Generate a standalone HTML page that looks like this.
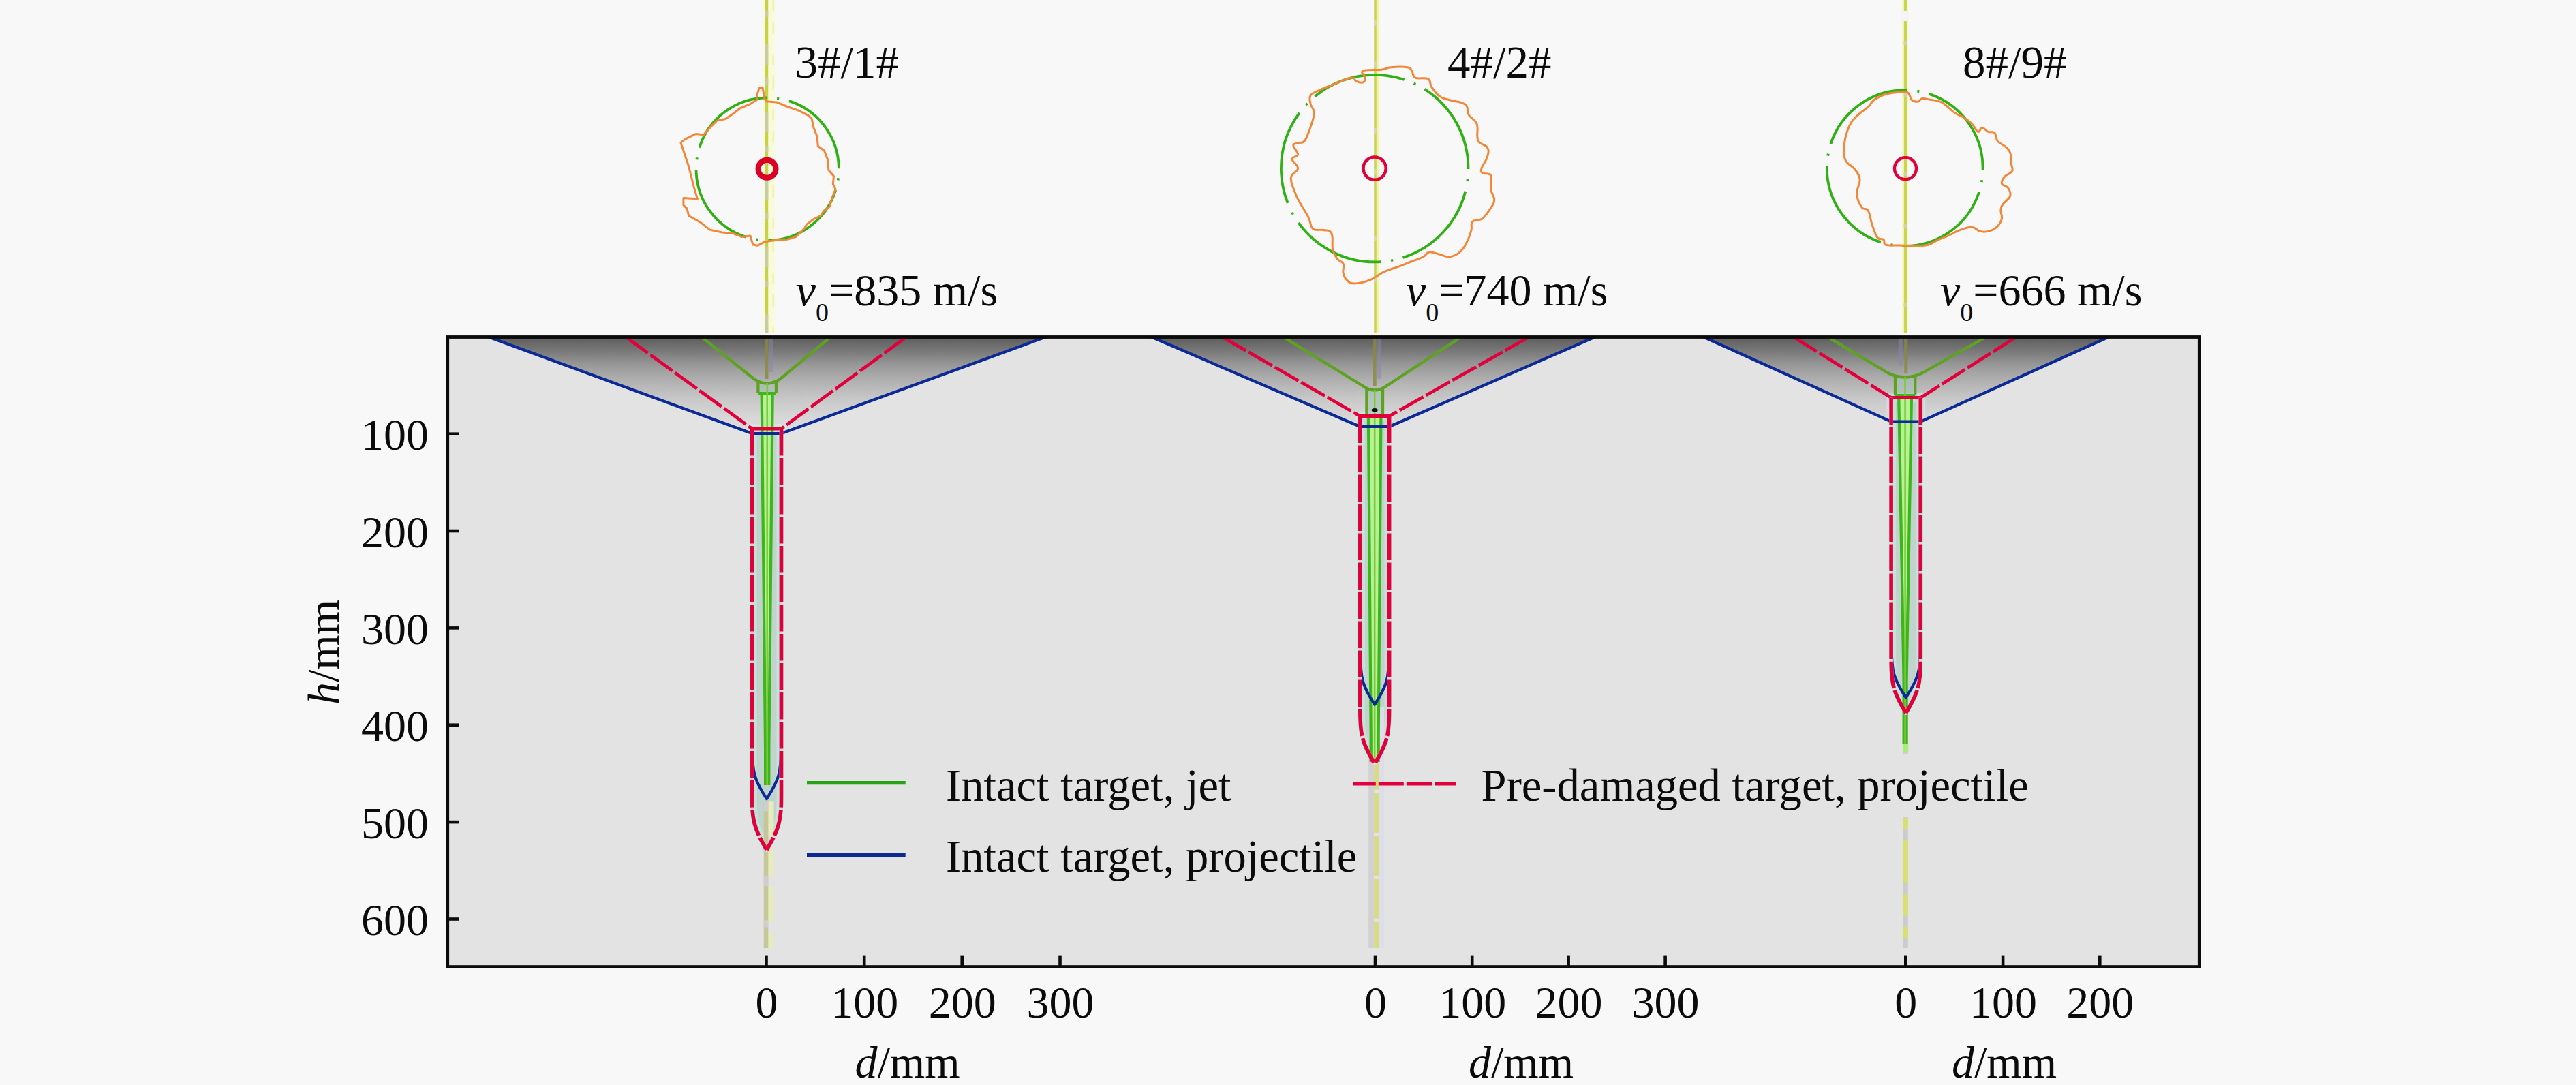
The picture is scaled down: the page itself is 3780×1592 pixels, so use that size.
<!DOCTYPE html>
<html lang="en">
<head>
<meta charset="utf-8">
<title>Penetration depth comparison</title>
<style>
html, body { margin: 0; padding: 0; background: #f8f8f8; }
body { width: 3780px; height: 1592px; overflow: hidden; }
svg { display: block; }
text { font-family: "Liberation Serif", serif; font-size: 66px; fill: #0b0b0b; }
.tt { font-size: 67px; }
.lg { font-size: 66.6px; }
.it { font-style: italic; }
.sub { font-size: 38px; }
</style>
</head>
<body>
<svg width="3780" height="1592" viewBox="0 0 3780 1592">
<defs>
<linearGradient id="crater" gradientUnits="userSpaceOnUse" x1="0" y1="494.5" x2="0" y2="636.0">
<stop offset="0" stop-color="#5e5e5e"/>
<stop offset="0.04" stop-color="#646464"/>
<stop offset="0.085" stop-color="#6d6d6d"/>
<stop offset="0.175" stop-color="#7f7f7f"/>
<stop offset="0.285" stop-color="#979797"/>
<stop offset="0.40" stop-color="#a9a9a9"/>
<stop offset="0.52" stop-color="#b9b9b9"/>
<stop offset="0.66" stop-color="#cacaca"/>
<stop offset="0.85" stop-color="#d8d8d8"/>
<stop offset="1" stop-color="#e1e1e1"/>
</linearGradient>
<clipPath id="plotclip"><rect x="656.7" y="494.5" width="2570.6" height="924.1"/></clipPath>
</defs>
<rect x="0" y="0" width="3780" height="1592" fill="#f8f8f8"/>
<rect x="656.7" y="494.5" width="2570.6" height="924.1" fill="#e3e3e3"/>

<g clip-path="url(#plotclip)">
<polygon points="717.0,494.5 1534.6,494.5 1146.5,636.0 1103.5,636.0" fill="url(#crater)"/>
<polygon points="1689.7,494.5 2340.4,494.5 2038.6,626.0 1995.8,626.0" fill="url(#crater)"/>
<polygon points="2499.7,494.5 3094.3,494.5 2818.3,618.6 2775.1,618.6" fill="url(#crater)"/>
</g>
<rect x="1119.8" y="0" width="16.8" height="488.5" fill="#f8fbd9"/>
<line x1="1134.7" y1="0" x2="1134.7" y2="488.5" stroke="#f1f3a8" stroke-width="2.6" stroke-dasharray="16 16 18 30"/>
<line x1="1125" y1="0" x2="1125" y2="488.5" stroke="#c8d247" stroke-width="4.5"/>
<line x1="1125" y1="0" x2="1125" y2="488.5" stroke="#c9cba4" stroke-width="4.5" stroke-dasharray="9 40 30 20" stroke-dashoffset="-16"/>
<rect x="2019.4" y="0" width="4.8" height="488.5" fill="#f1f4a4"/>
<line x1="2018" y1="0" x2="2018" y2="488.5" stroke="#c8d455" stroke-width="3.6"/>
<line x1="2018" y1="0" x2="2018" y2="488.5" stroke="#d5d7b8" stroke-width="3.6" stroke-dasharray="8 52 8 90" stroke-dashoffset="-30"/>
<rect x="2791" y="0" width="9" height="488.5" fill="#f5f8c6"/>
<line x1="2796.1" y1="0" x2="2796.1" y2="488.5" stroke="#c9d652" stroke-width="4.4"/>
<rect x="2789" y="16" width="12" height="15" fill="#f4f4f4"/>
<line x1="2796.1" y1="40" x2="2796.1" y2="488.5" stroke="#d0d3a8" stroke-width="5" stroke-dasharray="6 70 6 110" stroke-dashoffset="-20"/>
<g clip-path="url(#plotclip)" fill="none" stroke-linejoin="round" stroke-linecap="butt">
<path d="M1103.5,629.0 L1103.5,1166.8 C1103.5,1202.8 1105.7,1214.8 1125.0,1246.8 C1144.3,1214.8 1146.5,1202.8 1146.5,1166.8 L1146.5,629.0 Z" fill="#b4cfc6" fill-opacity="0.75" stroke="#c9f0e4" stroke-opacity="0.5" stroke-width="14"/>
<line x1="1125.0" y1="494.5" x2="1125.0" y2="556.0" stroke="#8a8a40" stroke-width="5" opacity="0.8"/>
<line x1="1132.0" y1="494.5" x2="1132.0" y2="546.0" stroke="#8c84b4" stroke-width="6" opacity="0.5"/>
<line x1="1131.4" y1="1176.2" x2="1131.4" y2="1391.0" stroke="#e8ecbc" stroke-width="8.3" stroke-dasharray="52 18 40 14"/>
<line x1="1124.0" y1="1176.2" x2="1124.0" y2="1391.0" stroke="#c5c79b" stroke-width="6.6"/>
<line x1="1124.0" y1="1176.2" x2="1124.0" y2="1391.0" stroke="#cecece" stroke-width="6.6" stroke-dasharray="14 50 10 36"/>
<path d="M1117.7,577.0 L1123.1,1100.0 L1123.1,1152.0 L1128.3,1152.0 L1128.3,1100.0 L1133.7,577.0 Z" fill="#b6f193" stroke="none"/>
<rect x="1112.4" y="562.0" width="26.6" height="15.0" fill="#a4c4b0" fill-opacity="0.55" stroke="none"/>
<path d="M1029.5,494.5 L1106.4,556.0 Q1125.7,569.0 1145.0,556.0 L1218.5,494.5" stroke="#5da321" stroke-width="4.3"/>
<path d="M1112.4,559.0 L1112.4,577.0 M1139.0,559.0 L1139.0,577.0" stroke="#5da321" stroke-width="4.3"/>
<path d="M1112.4,577.0 L1139.0,577.0" stroke="#3cb61a" stroke-width="4"/>
<path d="M1117.7,577.0 L1123.1,1100.0 L1123.1,1152.0 M1133.7,577.0 L1128.3,1100.0 L1128.3,1152.0" stroke="#3cb61a" stroke-width="4.2"/>
<line x1="1125.7" y1="562.0" x2="1125.7" y2="1152.0" stroke="#7cc83c" stroke-width="2.5"/>
<path d="M717.0,494.5 L1103.5,636.0 L1146.5,636.0 L1534.6,494.5" stroke="#0b2a96" stroke-width="4.2"/>
<path d="M1104.1,636.0 L1104.1,1100.2 C1104.1,1132.6 1106.2,1143.4 1125.0,1172.2 C1143.8,1143.4 1145.9,1132.6 1145.9,1100.2 L1145.9,636.0" stroke="#0b2a96" stroke-width="4.2"/>
<path d="M918.4,494.5 L1103.5,629.0" stroke="#e2003c" stroke-width="4.7" stroke-dasharray="40 4.5"/>
<path d="M1329.9,494.5 L1146.5,629.0" stroke="#e2003c" stroke-width="4.7" stroke-dasharray="40 4.5"/>
<path d="M1101.0,629.0 L1149.0,629.0" stroke="#e2003c" stroke-width="5"/>
<path d="M1103.5,629.0 L1103.5,1166.8 C1103.5,1202.8 1105.7,1214.8 1125.0,1246.8 C1144.3,1214.8 1146.5,1202.8 1146.5,1166.8 L1146.5,629.0" stroke="#f0d3dc" stroke-width="5.6"/>
<path d="M1103.5,629.0 L1103.5,1166.8 C1103.5,1202.8 1105.7,1214.8 1125.0,1246.8" stroke="#e2003c" stroke-width="5.6" stroke-dasharray="39.5 3.5"/>
<path d="M1146.5,629.0 L1146.5,1166.8 C1146.5,1202.8 1144.3,1214.8 1125.0,1246.8" stroke="#e2003c" stroke-width="5.6" stroke-dasharray="39.5 3.5"/>
<path d="M1995.8,610.5 L1995.8,1040.7 C1995.8,1076.7 1997.9,1088.7 2017.2,1120.7 C2036.5,1088.7 2038.6,1076.7 2038.6,1040.7 L2038.6,610.5 Z" fill="#b4cfc6" fill-opacity="0.75" stroke="#c9f0e4" stroke-opacity="0.5" stroke-width="14"/>
<line x1="2017.2" y1="494.5" x2="2017.2" y2="566.0" stroke="#8a8a40" stroke-width="5" opacity="0.8"/>
<line x1="2024.2" y1="494.5" x2="2024.2" y2="556.0" stroke="#8c84b4" stroke-width="6" opacity="0.5"/>
<line x1="2012.2" y1="1037.8" x2="2012.2" y2="1391.0" stroke="#d1d1d1" stroke-width="7.9"/>
<line x1="2027.3" y1="1037.8" x2="2027.3" y2="1391.0" stroke="#deddec" stroke-width="7.4"/>
<line x1="2019.9" y1="1037.8" x2="2019.9" y2="1391.0" stroke="#d6dd80" stroke-width="7.4" stroke-dasharray="58 5"/>
<path d="M2008.0,612.0 L2011.7,1080.0 L2011.7,1118.0 L2022.7,1118.0 L2022.7,1080.0 L2026.4,612.0 Z" fill="#b6f193" stroke="none"/>
<rect x="2005.4" y="572.0" width="23.6" height="40.0" fill="#a4c4b0" fill-opacity="0.55" stroke="none"/>
<path d="M1883.0,494.5 L1999.4,566.0 Q2017.2,579.0 2035.0,566.0 L2144.0,494.5" stroke="#5da321" stroke-width="4.3"/>
<path d="M2005.4,569.0 L2005.4,612.0 M2029.0,569.0 L2029.0,612.0" stroke="#5da321" stroke-width="4.3"/>
<path d="M2005.4,612.0 L2029.0,612.0" stroke="#3cb61a" stroke-width="4"/>
<path d="M2008.0,612.0 L2011.7,1080.0 L2011.7,1118.0 M2026.4,612.0 L2022.7,1080.0 L2022.7,1118.0" stroke="#3cb61a" stroke-width="4.2"/>
<line x1="2017.2" y1="572.0" x2="2017.2" y2="1118.0" stroke="#7cc83c" stroke-width="2.5"/>
<path d="M1689.7,494.5 L1995.8,626.0 L2038.6,626.0 L2340.4,494.5" stroke="#0b2a96" stroke-width="4.2"/>
<path d="M1996.4,626.0 L1996.4,961.8 C1996.4,994.2 1998.5,1005.0 2017.2,1033.8 C2035.9,1005.0 2038.0,994.2 2038.0,961.8 L2038.0,626.0" stroke="#0b2a96" stroke-width="4.2"/>
<path d="M1793.5,494.5 L1995.8,610.5" stroke="#e2003c" stroke-width="4.7" stroke-dasharray="40 4.5"/>
<path d="M2243.5,494.5 L2038.6,610.5" stroke="#e2003c" stroke-width="4.7" stroke-dasharray="40 4.5"/>
<path d="M1993.3,610.5 L2041.1,610.5" stroke="#e2003c" stroke-width="5"/>
<path d="M1995.8,610.5 L1995.8,1040.7 C1995.8,1076.7 1997.9,1088.7 2017.2,1120.7 C2036.5,1088.7 2038.6,1076.7 2038.6,1040.7 L2038.6,610.5" stroke="#f0d3dc" stroke-width="5.6"/>
<path d="M1995.8,610.5 L1995.8,1040.7 C1995.8,1076.7 1997.9,1088.7 2017.2,1120.7" stroke="#e2003c" stroke-width="5.6" stroke-dasharray="39.5 3.5"/>
<path d="M2038.6,610.5 L2038.6,1040.7 C2038.6,1076.7 2036.5,1088.7 2017.2,1120.7" stroke="#e2003c" stroke-width="5.6" stroke-dasharray="39.5 3.5"/>
<path d="M2775.1,583.5 L2775.1,966.1 C2775.1,1002.1 2777.3,1014.1 2796.7,1046.1 C2816.1,1014.1 2818.3,1002.1 2818.3,966.1 L2818.3,583.5 Z" fill="#b4cfc6" fill-opacity="0.75" stroke="#c9f0e4" stroke-opacity="0.5" stroke-width="14"/>
<line x1="2796.7" y1="494.5" x2="2796.7" y2="547.0" stroke="#8a8a40" stroke-width="5" opacity="0.8"/>
<line x1="2788.7" y1="494.5" x2="2788.7" y2="537.0" stroke="#8c84b4" stroke-width="6" opacity="0.5"/>
<line x1="2795.9" y1="1027.4" x2="2795.9" y2="1391.0" stroke="#cccccc" stroke-width="7.8"/>
<line x1="2795.9" y1="1027.4" x2="2795.9" y2="1391.0" stroke="#d9e072" stroke-width="7.8" stroke-dasharray="0 172.5 16.6 15.5 63 17.6 30.9 16.5 16.7 100"/>
<path d="M2786.2,580.0 L2793.6,1000.0 L2793.6,1092.0 L2797.6,1092.0 L2797.6,1000.0 L2805.0,580.0 Z" fill="#b6f193" stroke="none"/>
<rect x="2781.0" y="553.0" width="29.2" height="27.0" fill="#a4c4b0" fill-opacity="0.55" stroke="none"/>
<path d="M2682.0,494.5 L2770.0,547.0 Q2795.6,560.0 2821.2,547.0 L2914.3,494.5" stroke="#5da321" stroke-width="4.3"/>
<path d="M2781.0,550.0 L2781.0,580.0 M2810.2,550.0 L2810.2,580.0" stroke="#5da321" stroke-width="4.3"/>
<path d="M2781.0,580.0 L2810.2,580.0" stroke="#3cb61a" stroke-width="4"/>
<path d="M2786.2,580.0 L2793.6,1000.0 L2793.6,1092.0 M2805.0,580.0 L2797.6,1000.0 L2797.6,1092.0" stroke="#3cb61a" stroke-width="4.2"/>
<line x1="2795.6" y1="553.0" x2="2795.6" y2="1092.0" stroke="#7cc83c" stroke-width="2.5"/>
<path d="M2499.7,494.5 L2775.1,618.6 L2818.3,618.6 L3094.3,494.5" stroke="#0b2a96" stroke-width="4.2"/>
<path d="M2775.7,618.6 L2775.7,951.4 C2775.7,983.8 2777.8,994.6 2796.7,1023.4 C2815.6,994.6 2817.7,983.8 2817.7,951.4 L2817.7,618.6" stroke="#0b2a96" stroke-width="4.2"/>
<path d="M2631.8,494.5 L2775.1,583.5" stroke="#e2003c" stroke-width="4.7" stroke-dasharray="40 4.5"/>
<path d="M2958.6,494.5 L2818.3,583.5" stroke="#e2003c" stroke-width="4.7" stroke-dasharray="40 4.5"/>
<path d="M2772.6,583.5 L2820.8,583.5" stroke="#e2003c" stroke-width="5"/>
<path d="M2775.1,583.5 L2775.1,966.1 C2775.1,1002.1 2777.3,1014.1 2796.7,1046.1 C2816.1,1014.1 2818.3,1002.1 2818.3,966.1 L2818.3,583.5" stroke="#f0d3dc" stroke-width="5.6"/>
<path d="M2775.1,583.5 L2775.1,966.1 C2775.1,1002.1 2777.3,1014.1 2796.7,1046.1" stroke="#e2003c" stroke-width="5.6" stroke-dasharray="39.5 3.5"/>
<path d="M2818.3,583.5 L2818.3,966.1 C2818.3,1002.1 2816.1,1014.1 2796.7,1046.1" stroke="#e2003c" stroke-width="5.6" stroke-dasharray="39.5 3.5"/>
<rect x="2792.2" y="1092" width="8" height="11" fill="#a9ee7c" stroke="none"/>
<ellipse cx="2017.2" cy="601.7" rx="4.5" ry="2.6" fill="#101010" stroke="none"/>
</g>
<rect x="656.7" y="494.5" width="2570.6" height="924.1" fill="none" stroke="#0b0b0b" stroke-width="4.8"/>
<g stroke="#0b0b0b" stroke-width="4.6">
<line x1="656.7" y1="636.7" x2="673.2" y2="636.7"/>
<line x1="656.7" y1="779.0" x2="673.2" y2="779.0"/>
<line x1="656.7" y1="921.4" x2="673.2" y2="921.4"/>
<line x1="656.7" y1="1063.7" x2="673.2" y2="1063.7"/>
<line x1="656.7" y1="1206.1" x2="673.2" y2="1206.1"/>
<line x1="656.7" y1="1348.5" x2="673.2" y2="1348.5"/>
<line x1="1124.5" y1="1418.6" x2="1124.5" y2="1401.6"/>
<line x1="1268.2" y1="1418.6" x2="1268.2" y2="1401.6"/>
<line x1="1411.7" y1="1418.6" x2="1411.7" y2="1401.6"/>
<line x1="1555.5" y1="1418.6" x2="1555.5" y2="1401.6"/>
<line x1="2018.0" y1="1418.6" x2="2018.0" y2="1401.6"/>
<line x1="2160.2" y1="1418.6" x2="2160.2" y2="1401.6"/>
<line x1="2301.6" y1="1418.6" x2="2301.6" y2="1401.6"/>
<line x1="2443.6" y1="1418.6" x2="2443.6" y2="1401.6"/>
<line x1="2796.3" y1="1418.6" x2="2796.3" y2="1401.6"/>
<line x1="2939.1" y1="1418.6" x2="2939.1" y2="1401.6"/>
<line x1="3081.3" y1="1418.6" x2="3081.3" y2="1401.6"/>
</g>
<text x="629" y="660.2" text-anchor="end">100</text>
<text x="629" y="802.5" text-anchor="end">200</text>
<text x="629" y="944.9" text-anchor="end">300</text>
<text x="629" y="1087.2" text-anchor="end">400</text>
<text x="629" y="1229.6" text-anchor="end">500</text>
<text x="629" y="1372.0" text-anchor="end">600</text>
<text x="1125.0" y="1493" text-anchor="middle">0</text>
<text x="1268.7" y="1493" text-anchor="middle">100</text>
<text x="1412.2" y="1493" text-anchor="middle">200</text>
<text x="1556.0" y="1493" text-anchor="middle">300</text>
<text x="2018.5" y="1493" text-anchor="middle">0</text>
<text x="2160.7" y="1493" text-anchor="middle">100</text>
<text x="2302.1" y="1493" text-anchor="middle">200</text>
<text x="2444.1" y="1493" text-anchor="middle">300</text>
<text x="2796.8" y="1493" text-anchor="middle">0</text>
<text x="2939.6" y="1493" text-anchor="middle">100</text>
<text x="3081.8" y="1493" text-anchor="middle">200</text>
<text x="1254.5" y="1581"><tspan class="it">d</tspan>/mm</text>
<text x="2155" y="1581"><tspan class="it">d</tspan>/mm</text>
<text x="2864" y="1581"><tspan class="it">d</tspan>/mm</text>
<text transform="translate(497,957) rotate(-90)" text-anchor="middle"><tspan class="it">h</tspan>/mm</text>
<text class="tt" x="1166.5" y="114">3#/1#</text>
<text class="tt" x="2124" y="114">4#/2#</text>
<text class="tt" x="2880" y="114">8#/9#</text>
<text x="1167.7" y="448"><tspan class="it">v</tspan><tspan class="sub" dy="23">0</tspan><tspan dy="-23">=835 m/s</tspan></text>
<text x="2063" y="448"><tspan class="it">v</tspan><tspan class="sub" dy="23">0</tspan><tspan dy="-23">=740 m/s</tspan></text>
<text x="2847" y="448"><tspan class="it">v</tspan><tspan class="sub" dy="23">0</tspan><tspan dy="-23">=666 m/s</tspan></text>
<rect x="2168" y="1106" width="812" height="93" fill="#e3e3e3"/>
<line x1="1184" y1="1148.6" x2="1328.7" y2="1148.6" stroke="#25a314" stroke-width="5.4"/>
<line x1="1184" y1="1254.4" x2="1328.7" y2="1254.4" stroke="#0b2a96" stroke-width="5.2"/>
<line x1="1985" y1="1149.8" x2="2136" y2="1149.8" stroke="#e2003c" stroke-width="5.2" stroke-dasharray="33.8 4 37 4 38 4 40 0"/>
<text class="lg" x="1388" y="1174.7">Intact target, jet</text>
<text class="lg" x="1388" y="1278.8">Intact target, projectile</text>
<text class="lg" x="2173.6" y="1174.7">Pre-damaged target, projectile</text>
<circle cx="1126.2" cy="248.0" r="104.7" fill="none" stroke="#2fb114" stroke-width="3.8" stroke-dasharray="3.0 15.0 131.5 15.0" stroke-dashoffset="-13.5"/>
<polygon points="1111.3,138.4 1113.9,129.4 1119.0,128.1 1121.6,143.5 1124.2,148.7 1139.7,150.0 1155.2,156.5 1170.6,161.6 1186.1,169.4 1191.3,174.5 1193.9,187.4 1199.0,200.3 1200.3,214.5 1209.4,221.0 1214.5,233.9 1215.8,249.4 1223.5,258.4 1222.3,270.0 1226.1,277.7 1221.0,290.6 1217.1,303.5 1209.4,308.7 1204.2,316.5 1193.9,321.6 1183.5,329.4 1181.0,334.5 1168.1,347.4 1155.2,351.3 1134.5,352.6 1121.6,355.2 1111.3,360.3 1104.8,359.0 1101.0,346.1 1088.1,347.4 1075.2,342.3 1059.7,341.0 1041.6,337.1 1028.7,326.8 1010.6,316.5 1008.1,306.1 1002.9,301.0 1002.9,290.6 1023.5,291.9 1022.3,288.1 1018.4,275.2 1010.6,244.2 1002.9,221.0 999.0,209.4 1005.5,204.2 1021.0,196.5 1032.6,197.7 1041.6,187.4 1051.9,177.1 1064.8,174.5 1077.7,165.5 1085.5,159.0 1101.0,152.6 1111.3,146.1" fill="none" stroke="#f2873a" stroke-width="3" stroke-linejoin="round"/>
<circle cx="2017.2" cy="247.1" r="137.3" fill="none" stroke="#2fb114" stroke-width="3.8" stroke-dasharray="3.0 15.0 139.5 15.0" stroke-dashoffset="-16.0"/>
<path d="M2000.1,103.9 C2004.8,101.5 2019.2,103.2 2027.4,102.2 C2035.5,101.1 2033.5,99.4 2041.0,98.8 C2048.5,98.1 2058.7,97.7 2064.9,98.8 C2071.0,99.8 2069.3,100.8 2071.7,103.9 C2074.1,106.9 2072.0,111.7 2076.8,114.1 C2081.6,116.5 2090.8,113.1 2095.6,115.8 C2100.3,118.5 2097.3,122.6 2100.7,127.7 C2104.1,132.9 2107.5,137.6 2112.6,141.4 C2117.7,145.1 2118.8,144.1 2126.3,146.5 C2133.8,148.9 2144.3,148.9 2150.1,153.3 C2155.9,157.8 2151.8,162.9 2155.3,168.7 C2158.7,174.5 2164.5,174.8 2167.2,182.3 C2169.9,189.8 2165.8,199.4 2168.9,206.2 C2172.0,213.0 2179.8,211.7 2182.5,216.4 C2185.3,221.2 2184.2,223.9 2182.5,230.1 C2180.8,236.2 2175.4,242.3 2174.0,247.1 C2172.6,251.9 2173.0,251.9 2175.7,253.9 C2178.4,256.0 2185.3,252.6 2187.7,257.4 C2190.0,262.1 2186.6,270.7 2187.7,277.8 C2188.7,285.0 2192.8,287.7 2192.8,293.2 C2192.8,298.6 2190.7,300.0 2187.7,305.1 C2184.6,310.2 2180.5,315.3 2177.4,318.7 C2174.4,322.2 2175.7,320.8 2172.3,322.2 C2168.9,323.5 2163.1,322.2 2160.4,325.6 C2157.6,329.0 2160.7,332.4 2158.7,339.2 C2156.6,346.0 2153.9,353.2 2150.1,359.7 C2146.4,366.2 2144.7,368.2 2139.9,371.6 C2135.1,375.0 2131.7,376.4 2126.3,376.7 C2120.8,377.1 2118.4,374.7 2112.6,373.3 C2106.8,372.0 2102.0,369.2 2097.3,369.9 C2092.5,370.6 2093.9,374.0 2088.7,376.7 C2083.6,379.5 2078.5,380.8 2071.7,383.5 C2064.9,386.3 2062.8,387.3 2054.6,390.4 C2046.5,393.4 2039.6,394.8 2030.8,398.9 C2021.9,403.0 2019.2,407.4 2010.3,410.8 C2001.4,414.2 1993.2,415.9 1986.4,415.9 C1979.6,415.9 1979.3,413.9 1976.2,410.8 C1973.1,407.8 1972.1,405.4 1971.1,400.6 C1970.1,395.8 1972.8,391.1 1971.1,387.0 C1969.4,382.9 1965.6,384.2 1962.6,380.1 C1959.5,376.0 1957.4,374.0 1955.7,366.5 C1954.0,359.0 1956.8,348.4 1954.0,342.6 C1951.3,336.8 1947.5,338.9 1942.1,337.5 C1936.6,336.1 1931.2,339.5 1926.7,335.8 C1922.3,332.0 1923.7,326.2 1919.9,318.7 C1916.2,311.2 1911.7,305.1 1908.0,298.3 C1904.2,291.5 1903.9,292.1 1901.2,284.6 C1898.4,277.1 1893.7,268.3 1894.3,260.8 C1895.0,253.3 1904.2,252.6 1904.6,247.1 C1904.9,241.7 1896.0,237.6 1896.0,233.5 C1896.0,229.4 1904.2,230.8 1904.6,226.7 C1904.9,222.6 1897.4,216.4 1897.7,213.0 C1898.1,209.6 1902.9,211.0 1906.3,209.6 C1909.7,208.2 1911.4,211.0 1914.8,206.2 C1918.2,201.4 1920.6,193.9 1923.3,185.7 C1926.1,177.5 1928.4,171.7 1928.4,165.3 C1928.4,158.8 1924.4,158.4 1923.3,153.3 C1922.3,148.2 1920.3,144.1 1923.3,139.7 C1926.4,135.3 1932.2,134.2 1938.7,131.2 C1945.2,128.1 1946.9,127.7 1955.7,124.3 C1964.6,120.9 1976.2,115.1 1983.0,114.1 C1989.8,113.1 1986.4,117.9 1989.8,119.2 C1993.2,120.6 1997.3,122.0 2000.1,120.9 C2002.8,119.9 2003.5,117.5 2003.5,114.1 C2003.5,110.7 1995.3,106.3 2000.1,103.9 Z" fill="none" stroke="#f2873a" stroke-width="3" stroke-linejoin="round"/>
<circle cx="2795.2" cy="246.6" r="114.4" fill="none" stroke="#2fb114" stroke-width="3.8" stroke-dasharray="3.0 15.0 146.7 15.0" stroke-dashoffset="-17.7"/>
<path d="M2783.8,135.6 C2790.5,135.0 2794.8,133.5 2799.0,135.6 C2803.3,137.7 2802.1,143.5 2805.1,146.3 C2808.2,149.0 2811.2,149.6 2814.2,149.3 C2817.3,149.0 2816.7,145.4 2820.3,144.7 C2824.0,144.1 2827.0,145.4 2832.5,146.3 C2838.0,147.2 2842.2,146.9 2847.7,149.3 C2853.2,151.7 2855.6,155.1 2859.9,158.4 C2864.1,161.8 2864.7,163.3 2869.0,166.0 C2873.2,168.8 2876.3,169.1 2881.1,172.1 C2886.0,175.2 2889.1,177.0 2893.3,181.2 C2897.6,185.5 2899.4,192.2 2902.4,193.4 C2905.5,194.6 2905.5,187.3 2908.5,187.3 C2911.6,187.3 2914.0,191.9 2917.6,193.4 C2921.3,194.9 2924.0,192.2 2926.8,194.9 C2929.5,197.7 2928.3,203.1 2931.3,207.1 C2934.4,211.0 2938.3,211.4 2942.0,214.7 C2945.6,218.0 2947.7,219.0 2949.6,223.8 C2951.4,228.7 2950.5,233.6 2951.1,239.0 C2951.7,244.5 2954.4,247.2 2952.6,251.2 C2950.8,255.1 2945.0,255.1 2942.0,258.8 C2938.9,262.4 2936.5,266.1 2937.4,269.4 C2938.3,272.8 2944.1,271.9 2946.5,275.5 C2949.0,279.2 2951.1,282.8 2949.6,287.7 C2948.1,292.6 2941.7,295.6 2938.9,299.9 C2936.2,304.1 2936.2,304.7 2935.9,309.0 C2935.6,313.2 2938.6,316.3 2937.4,321.1 C2936.2,326.0 2933.8,329.7 2929.8,333.3 C2925.9,337.0 2922.5,338.2 2917.6,339.4 C2912.8,340.6 2910.3,340.6 2905.5,339.4 C2900.6,338.2 2899.4,333.6 2893.3,333.3 C2887.2,333.0 2881.8,335.4 2875.1,337.9 C2868.4,340.3 2865.9,342.7 2859.9,345.5 C2853.8,348.2 2850.7,348.8 2844.6,351.6 C2838.6,354.3 2836.1,357.3 2829.4,359.2 C2822.7,361.0 2819.7,360.5 2811.2,360.7 C2802.7,360.9 2795.7,360.4 2786.9,360.1 C2778.0,359.8 2771.7,360.9 2767.1,359.2 C2762.5,357.5 2766.5,353.7 2764.1,351.6 C2761.6,349.4 2758.3,352.8 2754.9,348.5 C2751.6,344.3 2750.1,338.2 2747.3,330.3 C2744.6,322.4 2744.3,314.1 2741.2,309.0 C2738.2,303.8 2735.5,309.3 2732.1,304.4 C2728.8,299.5 2725.1,292.9 2724.5,284.6 C2723.9,276.4 2729.7,270.7 2729.1,263.4 C2728.5,256.1 2725.7,253.9 2721.5,248.2 C2717.2,242.4 2710.8,241.8 2707.8,234.5 C2704.7,227.2 2705.0,221.7 2706.3,211.7 C2707.5,201.6 2709.9,192.8 2713.9,184.3 C2717.8,175.8 2720.6,174.5 2726.0,169.1 C2731.5,163.6 2736.4,161.5 2741.2,156.9 C2746.1,152.3 2745.5,149.9 2750.4,146.3 C2755.2,142.6 2758.9,140.8 2765.6,138.7 C2772.3,136.5 2777.1,136.2 2783.8,135.6 Z" fill="none" stroke="#f2873a" stroke-width="3" stroke-linejoin="round"/>
<circle cx="1125.5" cy="247.8" r="13" fill="none" stroke="#dc0024" stroke-width="8"/>
<circle cx="2017.1" cy="247.1" r="16.6" fill="none" stroke="#e2003c" stroke-width="4.4"/>
<circle cx="2796.0" cy="247.2" r="16" fill="none" stroke="#e2003c" stroke-width="4.4"/>
</svg>
</body>
</html>
